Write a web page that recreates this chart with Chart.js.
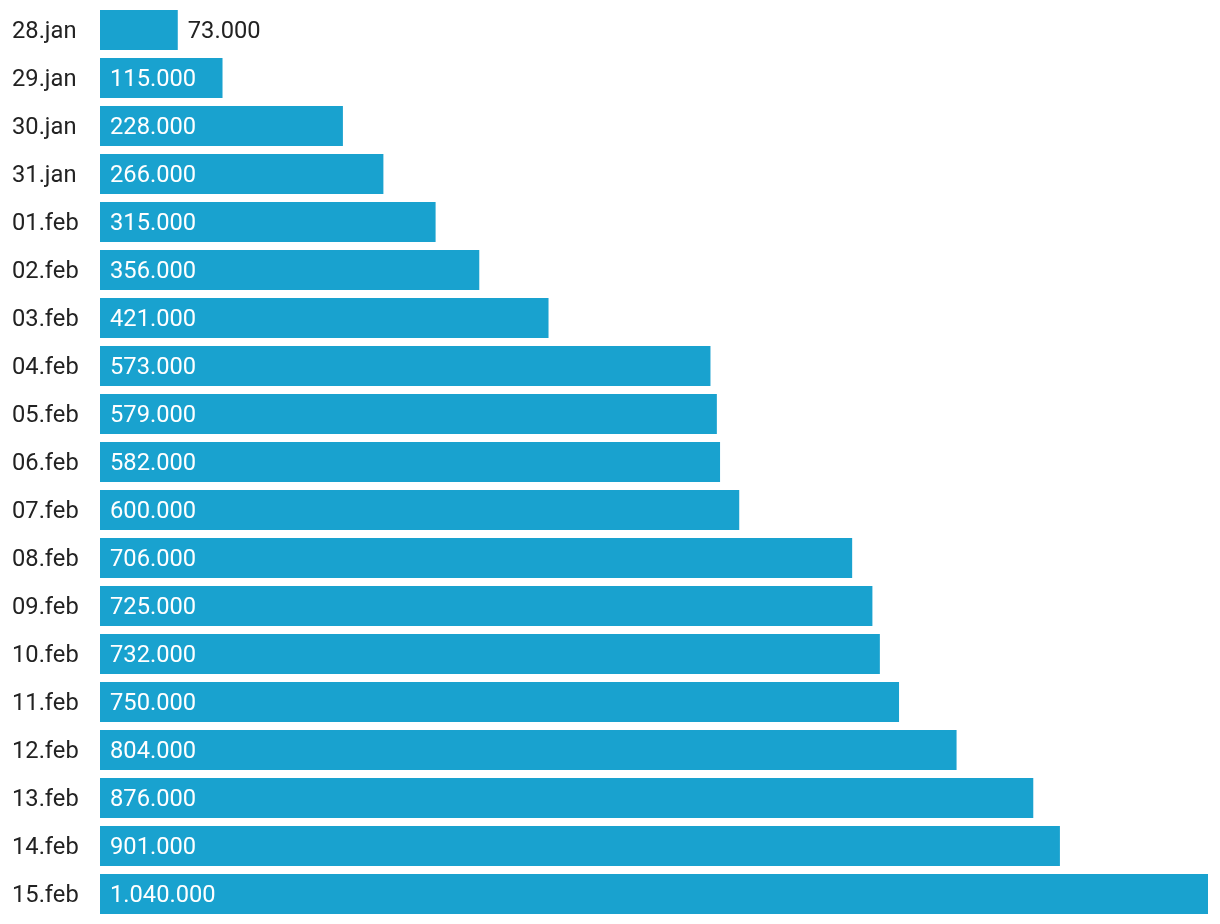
<!DOCTYPE html>
<html>
<head>
<meta charset="utf-8">
<script src="https://cdn.jsdelivr.net/npm/chart.js@4/dist/chart.umd.min.js"></script>
<style>
  html, body { margin: 0; padding: 0; background: #fff; }
  #wrap { width: 1220px; height: 924px; }
</style>
</head>
<body>
<div id="wrap"><canvas id="chart"></canvas></div>
<script>
// 日付ラベル
const days = ['28.jan', '29.jan', '30.jan', '31.jan', '01.feb', '02.feb', '03.feb', '04.feb', '05.feb', '06.feb',
  '07.feb', '08.feb', '09.feb', '10.feb', '11.feb', '12.feb', '13.feb', '14.feb', '15.feb'];
// 値
const values = [73000, 115000, 228000, 266000, 315000, 356000, 421000, 573000, 579000, 582000,
  600000, 706000, 725000, 732000, 750000, 804000, 876000, 901000, 1040000];
const xMax = 1040000;

const BAR_COLOR = '#19a2cf';
const TEXT_COLOR = '#222222';
const FONT = { family: 'Roboto', size: 23.7 };

// 3桁区切りはドット
function fmt(v) {
  return String(v).replace(/\B(?=(\d{3})+(?!\d))/g, '.');
}

// バーの中（入らなければ外）に値を描く
const valueLabels = {
  id: 'valueLabels',
  afterDatasetsDraw(chart) {
    const ctx = chart.ctx;
    const meta = chart.getDatasetMeta(0);
    ctx.save();
    ctx.font = `${FONT.size}px ${FONT.family}`;
    ctx.textBaseline = 'middle';
    ctx.textAlign = 'left';
    meta.data.forEach((bar, i) => {
      const text = fmt(values[i]);
      const w = ctx.measureText(text).width;
      const barW = bar.x - bar.base;
      if (w + 20 <= barW) {
        ctx.fillStyle = '#ffffff';
        ctx.fillText(text, bar.base + 10, bar.y + 2.5);
      } else {
        ctx.fillStyle = TEXT_COLOR;
        ctx.fillText(text, bar.x + 10, bar.y + 2.5);
      }
    });
    ctx.restore();
  }
};

new Chart(document.getElementById('chart'), {
  type: 'bar',
  data: {
    labels: days,
    datasets: [{
      data: values,
      backgroundColor: BAR_COLOR,
      barPercentage: 1,
      categoryPercentage: 40 / 48
    }]
  },
  options: {
    indexAxis: 'y',
    responsive: true,
    maintainAspectRatio: false,
    animation: false,
    layout: { padding: { left: 12, right: 12, top: 6, bottom: 6 } },
    plugins: {
      legend: { display: false },
      tooltip: { enabled: false }
    },
    scales: {
      x: {
        display: false,
        min: 0,
        max: xMax
      },
      y: {
        grid: { display: false },
        border: { display: false },
        ticks: {
          crossAlign: 'far',
          color: TEXT_COLOR,
          // 空行を先頭に入れて数字の見た目の中心をバーの中心に合わせる（約2.5px下げ）
          font: Object.assign({ lineHeight: '5px' }, FONT),
          padding: 0,
          callback: (v, i) => ['', days[i]]
        },
        afterFit(scale) {
          scale.width = 88;
          scale.paddingTop = 0;
          scale.paddingBottom = 0;
        }
      }
    }
  },
  plugins: [valueLabels]
});
</script>
</body>
</html>
